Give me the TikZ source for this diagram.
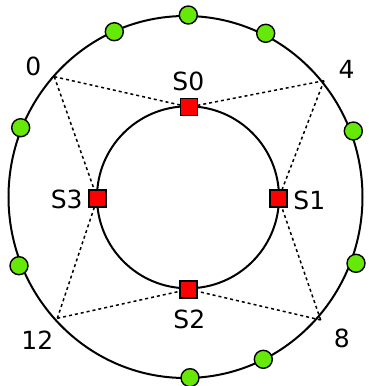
\documentclass[tikz,border=0pt]{standalone}
\usepackage{fontspec}
\setmainfont{DejaVu Sans}
\definecolor{dotgreen}{RGB}{102,232,8}
\tikzset{
  ring/.style={draw=black, line width=2pt},
  link/.style={draw=black, line width=1.5pt, dash pattern=on 3pt off 3pt},
  srv/.style={draw=black, fill=red, line width=1.7pt, minimum size=17pt, inner sep=0pt, rectangle},
  gdot/.style={draw=black, fill=dotgreen, line width=1.4pt, circle, minimum size=18pt, inner sep=0pt},
  lbl/.style={font=\fontsize{25}{30}\selectfont, inner sep=0pt},
  pt/.style={inner sep=0pt, minimum size=0pt}
}
\begin{document}
\begin{tikzpicture}[x=1pt,y=-1pt]
\useasboundingbox (0,0) rectangle (368,386);
% rings
\draw[ring] (185.5,197) ellipse [x radius=177, y radius=181];
\draw[ring] (188,197.3) circle [radius=91];
% ring points
\coordinate (p0) at (54.3,76.7);
\coordinate (p4) at (324,80.7);
\coordinate (p8) at (320.7,320);
\coordinate (p12) at (57.3,318.3);
% server coordinates
\coordinate (c0) at (189,107);
\coordinate (c1) at (278.7,198.3);
\coordinate (c2) at (188.7,289.3);
\coordinate (c3) at (97.3,198.3);
% dashed links
\draw[link] (p0) -- (c0);
\draw[link] (p0) -- (c3);
\draw[link] (p4) -- (c0);
\draw[link] (p4) -- (c1);
\draw[link] (p8) -- (c1);
\draw[link] (p8) -- (c2);
\draw[link] (p12) -- (c2);
\draw[link] (p12) -- (c3);
% servers
\node[srv] (s0) at (c0) {};
\node[srv] (s1) at (c1) {};
\node[srv] (s2) at (c2) {};
\node[srv] (s3) at (c3) {};
% green dots
\node[gdot] (g1) at (114.3,31.7) {};
\node[gdot] (g2) at (188.3,15) {};
\node[gdot] (g3) at (265.7,33.3) {};
\node[gdot] (g4) at (20.7,127.7) {};
\node[gdot] (g5) at (353.3,131) {};
\node[gdot] (g6) at (19,265.7) {};
\node[gdot] (g7) at (356,263.3) {};
\node[gdot] (g8) at (263.3,359.3) {};
\node[gdot] (g9) at (190,377.7) {};
% labels
\node[lbl] (l0) at (33.3,66) {0};
\node[lbl] (l4) at (346.7,69.3) {4};
\node[lbl] (l12) at (37.3,340) {12};
\node[lbl] (l8) at (341.7,338.3) {8};
\node[lbl] (ls0) at (188.3,81) {S0};
\node[lbl] (ls1) at (309.3,200) {S1};
\node[lbl] (ls2) at (189.3,319.3) {S2};
\node[lbl] (ls3) at (66.7,199.3) {S3};
\end{tikzpicture}
\end{document}
